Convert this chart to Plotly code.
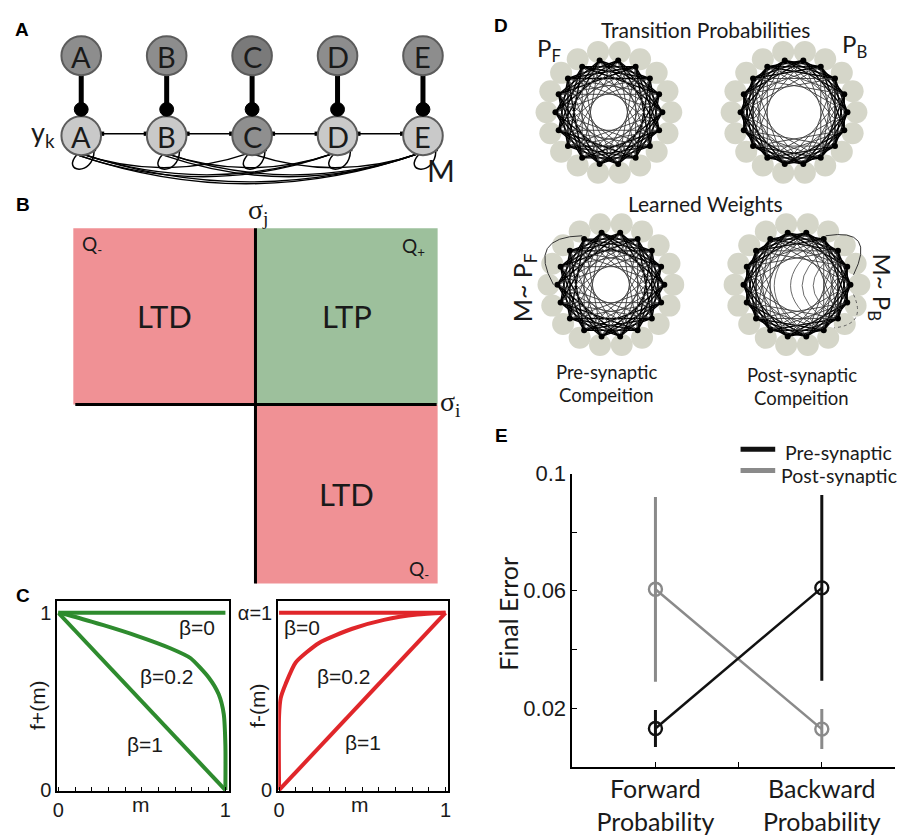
import math
import plotly.graph_objects as go

W, H = 899, 837

# ---------------- data ----------------
# Panel A: chain of states, with the active state and the skip connections of M
STATES = ["A", "B", "C", "D", "E"]
ACTIVE_STATE = "C"
SKIP_LINKS = [("A", "C"), ("A", "D"), ("A", "E"), ("B", "D"), ("B", "E"), ("C", "E")]

# Panel B: plasticity quadrants
B_REGIONS = ["LTD", "LTP", "LTD"]
B_TAGS = ["Q<sub>-</sub>", "Q<sub>+</sub>", "Q<sub>-</sub>"]

# Panel C: soft-bound functions
M_ENDS = [0.0, 1.0]
FPLUS_BETA0 = [1.0, 1.0]
FPLUS_BETA1 = [1.0, 0.0]
FPLUS_M = [0.0, 0.07, 0.27, 0.47, 0.67, 0.79, 0.90, 0.96, 0.99, 1.0, 1.0]
FPLUS_BETA02 = [1.0, 0.985, 0.93, 0.87, 0.80, 0.745, 0.635, 0.54, 0.43, 0.25, 0.0]
FMINUS_BETA0 = [1.0, 1.0]
FMINUS_BETA1 = [0.0, 1.0]
FMINUS_M = [0.0, 0.0, 0.01, 0.04, 0.10, 0.24, 0.44, 0.63, 0.83, 1.0]
FMINUS_BETA02 = [0.0, 0.42, 0.52, 0.60, 0.72, 0.83, 0.91, 0.96, 0.99, 1.0]
M_TICKS = [i / 10 for i in range(11)]

# Panel D: ring networks (number of units, chord steps)
N_UNITS = 18
PF_STEPS = [3, 4, 5, 6, 7]
PB_STEPS = [2, 3, 4, 5, 6]

# Panel E: final error per condition
CONDITIONS = ["Forward<br>Probability", "Backward<br>Probability"]
SERIES = ["Pre-synaptic", "Post-synaptic"]
PRE_MEAN = [0.013, 0.061]
PRE_LOW = [0.0067, 0.0293]
PRE_HIGH = [0.0193, 0.0927]
POST_MEAN = [0.0605, 0.0128]
POST_LOW = [0.029, 0.006]
POST_HIGH = [0.092, 0.0197]

# ---------------- styling ----------------
SANS = "Lato"
ARIAL = "Liberation Sans"
SERIF = "Liberation Serif"
INK = "#1a1a1a"
GREEN = "#2e8b2e"
RED = "#e0262a"
PINK = "#f09195"
SAGE = "#9dc09c"
UNIT = "#d5d6c9"
DARK_SERIES = "#111111"
LIGHT_SERIES = "#8a8a8a"

fig = go.Figure()
shapes = []
annotations = []


def text(x, y, s, size, family=SANS, color=INK, angle=0, xanchor="center", yanchor="middle", bold=False):
    if bold:
        s = "<b>" + s + "</b>"
    annotations.append(dict(x=x, y=y, xref="x", yref="y", text=s, showarrow=False,
                            font=dict(family=family, size=size, color=color),
                            textangle=angle, xanchor=xanchor, yanchor=yanchor))


def circle(cx, cy, r, fill, line="#555555", lw=2, layer="above"):
    shapes.append(dict(type="circle", xref="x", yref="y", x0=cx - r, x1=cx + r, y0=cy - r, y1=cy + r,
                       fillcolor=fill, line=dict(color=line, width=lw), layer=layer))


def seg(x0, y0, x1, y1, w, color="black", layer="above"):
    shapes.append(dict(type="line", xref="x", yref="y", x0=x0, y0=y0, x1=x1, y1=y1,
                       line=dict(color=color, width=w), layer=layer))


def rect(x0, y0, x1, y1, fill, layer="below", lw=0, line="black"):
    shapes.append(dict(type="rect", xref="x", yref="y", x0=x0, y0=y0, x1=x1, y1=y1,
                       fillcolor=fill, line=dict(width=lw, color=line), layer=layer))


def path(d, w, color="black", dash="solid"):
    shapes.append(dict(type="path", xref="x", yref="y", path=d,
                       line=dict(color=color, width=w, dash=dash), layer="above"))


# ---------------- panel A ----------------
ax0, adx = 77, 86.3
y_top, y_bot, r_node = 45, 127, 20
xs = {s: ax0 + adx * i for i, s in enumerate(STATES)}

# thick observation links
for s in STATES:
    seg(xs[s], y_top + 15, xs[s], y_bot - 27, 5)
# forward links between neighbours
for a, b in zip(STATES[:-1], STATES[1:]):
    seg(xs[a] + 20, y_bot - 2, xs[b] - 20, y_bot - 2, 1.6)
    for px in (xs[a] + 21, xs[b] - 21):
        rect(px - 2.2, y_bot - 4.2, px + 2.2, y_bot + 0.2, "black", layer="above")
# long-range links of M
for a, b in SKIP_LINKS:
    i, j = STATES.index(a), STATES.index(b)
    d = j - i
    x0, x1 = xs[a] - 2, xs[b] - 3
    for off in ([0, 2.5] if d >= 3 else [0]):
        y0 = 145 + off
        cy = 146 + 14.5 * d + off
        path(f"M {x0:.1f},{y0:.1f} Q {(x0 + x1) / 2:.1f},{cy:.1f} {x1:.1f},{y0 - off:.1f}", 1.4)
    rect(x1 - 2, 142, x1 + 2, 146, "black", layer="above")
# self loops
for s in STATES:
    x = xs[s]
    path(f"M {x - 4:.1f},146 C {x - 21:.1f},165 {x + 12:.1f},169 {x + 13:.1f},143", 1.5)
    rect(x + 11, 139, x + 15, 143, "black", layer="above")
# state nodes
for s in STATES:
    top_fill = "#7a7a7a" if s == ACTIVE_STATE else "#8d8d8d"
    bot_fill = "#8f8f8f" if s == ACTIVE_STATE else "#c9c9c9"
    circle(xs[s], y_top, r_node, top_fill, line="#5c5c5c", lw=2)
    circle(xs[s], y_bot, r_node, bot_fill, line="#5c5c5c", lw=2)
    circle(xs[s], y_bot - 27, 7, "black", line="black", lw=1)
    text(xs[s], y_top + 1, s, 29)
    text(xs[s], y_bot + 1, s, 29)
text(38, 125, "y<sub>k</sub>", 27)
text(440, 162, "M", 30)

# ---------------- panel B ----------------
bx0, bxm, bx1 = 69, 253, 437
by0, bym, by1 = 222, 403, 587
rect(bx0, by0, bxm, bym, PINK)
rect(bxm, by0, bx1, bym, SAGE)
rect(bxm, bym, bx1, by1, PINK)
seg(bx0 + 2, bym, bx1 - 1, bym, 3)
seg(bxm, by0, bxm, by1, 3)
region_pos = [((bx0 + bxm) / 2, (by0 + bym) / 2), ((bxm + bx1) / 2, (by0 + bym) / 2),
              ((bxm + bx1) / 2, (bym + by1) / 2)]
for lab, (cx, cy) in zip(B_REGIONS, region_pos):
    text(cx, cy, lab, 31)
tag_pos = [(88, 239), (413, 241), (418, 573)]
for lab, (cx, cy) in zip(B_TAGS, tag_pos):
    text(cx, cy, lab, 19)
text(256, 205, "σ<sub>j</sub>", 28, family=SERIF)
text(450, 402, "σ<sub>i</sub>", 28, family=SERIF)

# ---------------- panel C ----------------
cl = dict(xaxis="x2", yaxis="y2", mode="lines", showlegend=False, hoverinfo="skip")
fig.add_trace(go.Scatter(x=M_ENDS, y=FPLUS_BETA0, line=dict(color=GREEN, width=4), **cl))
fig.add_trace(go.Scatter(x=M_ENDS, y=FPLUS_BETA1, line=dict(color=GREEN, width=4), **cl))
fig.add_trace(go.Scatter(x=FPLUS_M, y=FPLUS_BETA02, line=dict(color=GREEN, width=4, shape="spline", smoothing=0.6), **cl))
cr = dict(xaxis="x3", yaxis="y3", mode="lines", showlegend=False, hoverinfo="skip")
fig.add_trace(go.Scatter(x=M_ENDS, y=FMINUS_BETA0, line=dict(color=RED, width=4), **cr))
fig.add_trace(go.Scatter(x=M_ENDS, y=FMINUS_BETA1, line=dict(color=RED, width=4), **cr))
fig.add_trace(go.Scatter(x=FMINUS_M, y=FMINUS_BETA02, line=dict(color=RED, width=4, shape="spline", smoothing=0.6), **cr))

text(194, 632, "β=0", 21, family=ARIAL)
text(164, 682, "β=0.2", 21, family=ARIAL)
text(141, 752, "β=1", 21, family=ARIAL)
text(300, 632, "β=0", 21, family=ARIAL)
text(342, 682, "β=0.2", 21, family=ARIAL)
text(362, 750, "β=1", 21, family=ARIAL)
text(33, 712, "f+(m)", 21, family=ARIAL, angle=-90)
text(255, 712, "f-(m)", 21, family=ARIAL, angle=-90)
text(137, 814, "m", 21, family=ARIAL)
text(359, 814, "m", 21, family=ARIAL)


def c_axes(x0, x1, xr, ylabels):
    xa = dict(domain=[x0 / W, x1 / W], range=xr, showline=True, mirror=True, linecolor="black",
              linewidth=2, ticks="", tickvals=[0, 1], ticktext=["0", "1"],
              minor=dict(tickvals=M_TICKS, ticks="inside", ticklen=4, tickwidth=1.3, tickcolor="black"),
              showgrid=False, zeroline=False,
              tickfont=dict(family=ARIAL, size=20, color=INK), fixedrange=True)
    ya = dict(domain=[1 - 800 / H, 1 - 605 / H], range=[-0.005, 1.066], showline=True, mirror=True,
              linecolor="black", linewidth=2, ticks="", tickvals=[0, 1], ticktext=ylabels,
              showgrid=False, zeroline=False, tickfont=dict(family=ARIAL, size=20, color=INK),
              fixedrange=True)
    return xa, ya


xa2, ya2 = c_axes(53, 226, [-0.005, 1.02], ["0", "1"])
xa3, ya3 = c_axes(276, 447, [-0.005, 1.012], ["0", "α=1"])
xa2["anchor"], ya2["anchor"] = "y2", "x2"
xa3["anchor"], ya3["anchor"] = "y3", "x3"

# ---------------- panel D ----------------
R_UNIT, R_DOT = 63, 54


def unit_angle(i):
    return math.radians(100 + 360 / N_UNITS * i)


def ring(cx, cy, steps):
    ux = [cx + R_UNIT * math.cos(unit_angle(i)) for i in range(N_UNITS)]
    uy = [cy - R_UNIT * math.sin(unit_angle(i)) for i in range(N_UNITS)]
    fig.add_trace(go.Scatter(x=ux, y=uy, mode="markers", showlegend=False, hoverinfo="skip",
                             marker=dict(size=22, color=UNIT, line=dict(width=0))))
    for s in steps:
        lx, ly = [], []
        for i in range(N_UNITS):
            j = (i + s) % N_UNITS
            a0, a1 = unit_angle(i), unit_angle(j)
            lx += [cx + R_DOT * math.cos(a0), cx + R_DOT * math.cos(a1), None]
            ly += [cy - R_DOT * math.sin(a0), cy - R_DOT * math.sin(a1), None]
        inner = s >= steps[-2]
        fig.add_trace(go.Scatter(x=lx, y=ly, mode="lines", showlegend=False, hoverinfo="skip",
                                 line=dict(color="#3a3a3a" if inner else "black",
                                           width=0.9 if inner else 1.4)))
    dx = [cx + R_DOT * math.cos(unit_angle(i)) for i in range(N_UNITS)]
    dy = [cy - R_DOT * math.sin(unit_angle(i)) for i in range(N_UNITS)]
    fig.add_trace(go.Scatter(x=dx, y=dy, mode="markers", showlegend=False, hoverinfo="skip",
                             marker=dict(size=6, color="black")))


def ring_point(cx, cy, idx, r):
    return cx + r * math.cos(unit_angle(idx)), cy - r * math.sin(unit_angle(idx))


ring(610, 103, PF_STEPS)
ring(797, 103, PB_STEPS)
ring(612, 280, PF_STEPS)
ring(800, 280, PB_STEPS)

# extra learned connections outside and across the rings
p0 = ring_point(612, 280, 1, 58)
p1 = ring_point(612, 280, 4, 58)
pc = ring_point(612, 280, 2.5, 98)
path(f"M {p0[0]:.1f},{p0[1]:.1f} Q {pc[0]:.1f},{pc[1]:.1f} {p1[0]:.1f},{p1[1]:.1f}", 1.0, color="#333333")
q0 = ring_point(800, 280, 16, 58)
q1 = ring_point(800, 280, 13.5, 58)
qc = ring_point(800, 280, 14.8, 100)
path(f"M {q0[0]:.1f},{q0[1]:.1f} Q {qc[0]:.1f},{qc[1]:.1f} {q1[0]:.1f},{q1[1]:.1f}", 1.0, color="#333333")
q2 = ring_point(800, 280, 12.5, 58)
q3 = ring_point(800, 280, 10.5, 58)
qc2 = ring_point(800, 280, 11.5, 82)
path(f"M {q2[0]:.1f},{q2[1]:.1f} Q {qc2[0]:.1f},{qc2[1]:.1f} {q3[0]:.1f},{q3[1]:.1f}", 0.9, color="#555555", dash="dot")
for k, (a, b) in enumerate([(17, 9), (16, 10), (15.5, 10.5), (15, 11), (14.5, 11.5)]):
    pa = ring_point(800, 280, a, 52)
    pb = ring_point(800, 280, b, 52)
    ctrl = (800 - 55 + 16 * k, 282)
    path(f"M {pa[0]:.1f},{pa[1]:.1f} Q {ctrl[0]:.1f},{ctrl[1]:.1f} {pb[0]:.1f},{pb[1]:.1f}", 0.8, color="#444444")

text(708, 18, "Transition Probabilities", 21)
text(549, 38, "P<sub>F</sub>", 24)
text(858, 34, "P<sub>B</sub>", 24)
text(708, 197, "Learned Weights", 21)
text(524, 283, "M~ P<sub>F</sub>", 25, angle=-90)
text(884, 283, "M~ P<sub>B</sub>", 24, angle=90)
text(608, 370, "Pre-synaptic", 18.5)
text(608, 393, "Compeition", 18.5)
text(805, 373, "Post-synaptic", 18.5)
text(805, 396, "Compeition", 18.5)

# ---------------- panel E ----------------
ex = [1, 2]
for name, mean, low, high, color in [
    (SERIES[1], POST_MEAN, POST_LOW, POST_HIGH, LIGHT_SERIES),
    (SERIES[0], PRE_MEAN, PRE_LOW, PRE_HIGH, DARK_SERIES),
]:
    fig.add_trace(go.Scatter(
        x=ex, y=mean, name=name, xaxis="x4", yaxis="y4", mode="lines+markers", showlegend=False,
        line=dict(color=color, width=2.5),
        marker=dict(symbol="circle-open", size=13, color=color, line=dict(width=2.4, color=color)),
        error_y=dict(type="data", symmetric=False,
                     array=[h - m for h, m in zip(high, mean)],
                     arrayminus=[m - l for m, l in zip(mean, low)],
                     thickness=3, width=0, color=color),
    ))

xa4 = dict(domain=[573 / W, 1.0], range=[0.5, 2.44], anchor="y4", showline=True, linecolor="black",
           linewidth=1.5, ticks="inside", ticklen=5, tickcolor="black", tickvals=[1, 2],
           ticktext=CONDITIONS,
           minor=dict(tickvals=[1.5], ticks="inside", ticklen=5, tickcolor="black"),
           showgrid=False, zeroline=False,
           tickfont=dict(family=SANS, size=25, color=INK), fixedrange=True)
ya4 = dict(domain=[1 - 775 / H, 1 - 474 / H], range=[0, 0.1], anchor="x4", showline=True,
           linecolor="black", linewidth=1.5, ticks="inside", ticklen=5, tickcolor="black",
           tickvals=[0.02, 0.06, 0.1], ticktext=["0.02", "0.06", "0.1"],
           minor=dict(tickvals=[0.04, 0.08], ticks="inside", ticklen=5, tickcolor="black"),
           showgrid=False, zeroline=False, tickfont=dict(family=ARIAL, size=22, color=INK),
           fixedrange=True)
text(508, 618, "Final Error", 25, angle=-90)

# legend drawn by hand; the longer entries run up to the right edge
for k, (name, color) in enumerate(zip(SERIES, [DARK_SERIES, LIGHT_SERIES])):
    yy = 449 + 22 * k
    seg(743, yy, 778, yy, 5, color=color)
    text(786 - 4 * k, yy + 3 + 2 * k, name, 19.5, xanchor="left")

# panel letters
for lab, (px, py) in zip("ABCDE", [(17, 18), (18, 198), (18, 599), (501, 14), (502, 435)]):
    text(px, py, lab, 19, family=ARIAL, color="black", bold=True)

fig.update_layout(
    width=W, height=H, margin=dict(l=0, r=0, t=0, b=0),
    paper_bgcolor="white", plot_bgcolor="rgba(0,0,0,0)",
    xaxis=dict(domain=[0, 1], range=[0, W], visible=False, fixedrange=True),
    yaxis=dict(domain=[0, 1], range=[H, 0], visible=False, fixedrange=True),
    xaxis2=xa2, yaxis2=ya2, xaxis3=xa3, yaxis3=ya3, xaxis4=xa4, yaxis4=ya4,
    shapes=shapes, annotations=annotations, showlegend=False,
)

fig.write_html("out.html")
